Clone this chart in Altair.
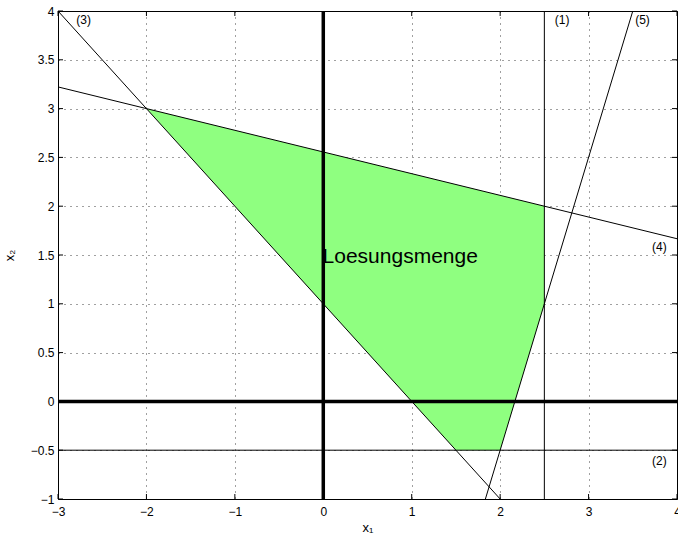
import altair as alt
import pandas as pd

# Feasible region (vertices in order)
region_x1 = [-2.0, 2.5, 2.5, 2.0, 1.5]
region_x2 = [3.0, 2.0, 1.0, -0.5, -0.5]

# Constraint lines, each given by two end points inside the axes
line_ids = ["(1)", "(1)", "(2)", "(2)", "(3)", "(3)", "(4)", "(4)", "(5)", "(5)"]
line_x1 = [2.5, 2.5, -3.0, 4.0, -3.0, 2.0, -3.0, 4.0, 11 / 6, 3.5]
line_x2 = [-1.0, 4.0, -0.5, -0.5, 4.0, -1.0, 29 / 9, 5 / 3, -1.0, 4.0]

# Labels of the constraints
label_text = ["(1)", "(2)", "(3)", "(4)", "(5)"]
label_x1 = [2.70, 3.80, -2.71, 3.80, 3.61]
label_x2 = [3.91, -0.61, 3.91, 1.58, 3.91]

region_label = "Loesungsmenge"
region_label_x1 = 0.87
region_label_x2 = 1.48

x_ticks = [-3, -2, -1, 0, 1, 2, 3, 4]
y_ticks = [-1, -0.5, 0, 0.5, 1, 1.5, 2, 2.5, 3, 3.5, 4]

W, H = 619, 488
FONT = "Liberation Sans"

xs = alt.Scale(domain=[-3, 4], nice=False, zero=False)
ys = alt.Scale(domain=[-1, 4], nice=False, zero=False)

poly = pd.DataFrame({"x1": region_x1, "x2": region_x2, "k": range(len(region_x1))})
lines = pd.DataFrame({"x1": line_x1, "x2": line_x2, "id": line_ids,
                      "k": list(range(len(line_x1)))})
labels = pd.DataFrame({"x1": label_x1, "x2": label_x2, "t": label_text})

x_axis = alt.Axis(values=x_ticks, format="~g", grid=True, gridDash=[1, 5],
                  gridColor="#000", gridOpacity=0.75, gridWidth=1, ticks=False,
                  domain=False, labelFont=FONT, labelFontSize=12, labelPadding=7,
                  labelColor="#000", title="x₁", titleFont=FONT,
                  titleFontSize=13, titleFontWeight="normal", titlePadding=4,
                  titleColor="#000", labelFlush=False)
y_axis = alt.Axis(values=y_ticks, format="~g", grid=True, gridDash=[1, 5],
                  gridColor="#000", gridOpacity=0.75, gridWidth=1, ticks=False,
                  domain=False, labelFont=FONT, labelFontSize=12, labelPadding=4,
                  labelColor="#000", title="x₂", titleFont=FONT,
                  titleFontSize=13, titleFontWeight="normal", titlePadding=14,
                  titleColor="#000", labelFlush=False)

region = alt.Chart(poly).mark_line(fill="#8fff80", strokeWidth=0, clip=True).encode(
    x=alt.X("x1:Q", scale=xs, axis=x_axis),
    y=alt.Y("x2:Q", scale=ys, axis=y_axis),
    order="k:Q",
)

# Coordinate axes x1 = 0 and x2 = 0
axes0 = alt.Chart(pd.DataFrame({"x1": [-3, 4], "x2": [0, 0]})).mark_line(
    color="#000", strokeWidth=3.5).encode(
    x=alt.X("x1:Q", scale=xs), y=alt.Y("x2:Q", scale=ys))
axes1 = alt.Chart(pd.DataFrame({"x1": [0, 0], "x2": [-1, 4]})).mark_line(
    color="#000", strokeWidth=3.5).encode(
    x=alt.X("x1:Q", scale=xs), y=alt.Y("x2:Q", scale=ys))

constraint = alt.Chart(lines).mark_line(color="#000", strokeWidth=1, clip=True).encode(
    x=alt.X("x1:Q", scale=xs), y=alt.Y("x2:Q", scale=ys),
    detail="id:N", order="k:Q")

# Inward tick marks on all four sides
dx, dy = 5 / (W / 7), 5 / (H / 5)
tick_rows = []
for v in x_ticks:
    tick_rows.append({"a": v, "b": -1, "a2": v, "b2": -1 + dy})
    tick_rows.append({"a": v, "b": 4, "a2": v, "b2": 4 - dy})
for v in y_ticks:
    tick_rows.append({"a": -3, "b": v, "a2": -3 + dx, "b2": v})
    tick_rows.append({"a": 4, "b": v, "a2": 4 - dx, "b2": v})
ticks = alt.Chart(pd.DataFrame(tick_rows)).mark_rule(color="#000", strokeWidth=1).encode(
    x=alt.X("a:Q", scale=xs), y=alt.Y("b:Q", scale=ys),
    x2="a2:Q", y2="b2:Q")

texts = alt.Chart(labels).mark_text(font=FONT, fontSize=12, color="#000").encode(
    x=alt.X("x1:Q", scale=xs), y=alt.Y("x2:Q", scale=ys), text="t:N")

region_text = alt.Chart(pd.DataFrame({"x1": [region_label_x1], "x2": [region_label_x2],
                                      "t": [region_label]})).mark_text(
    font=FONT, fontSize=21, color="#000").encode(
    x=alt.X("x1:Q", scale=xs), y=alt.Y("x2:Q", scale=ys), text="t:N")

chart = alt.layer(region, axes0, axes1, constraint, ticks, texts, region_text).properties(
    width=W, height=H,
    autosize=alt.AutoSizeParams(type="none"),
    padding={"left": 58, "top": 11, "right": 1, "bottom": 39},
    background="white",
).configure_view(stroke="#000", strokeWidth=1)

chart.save("out.html", embed_options={"renderer": "svg", "actions": False})
